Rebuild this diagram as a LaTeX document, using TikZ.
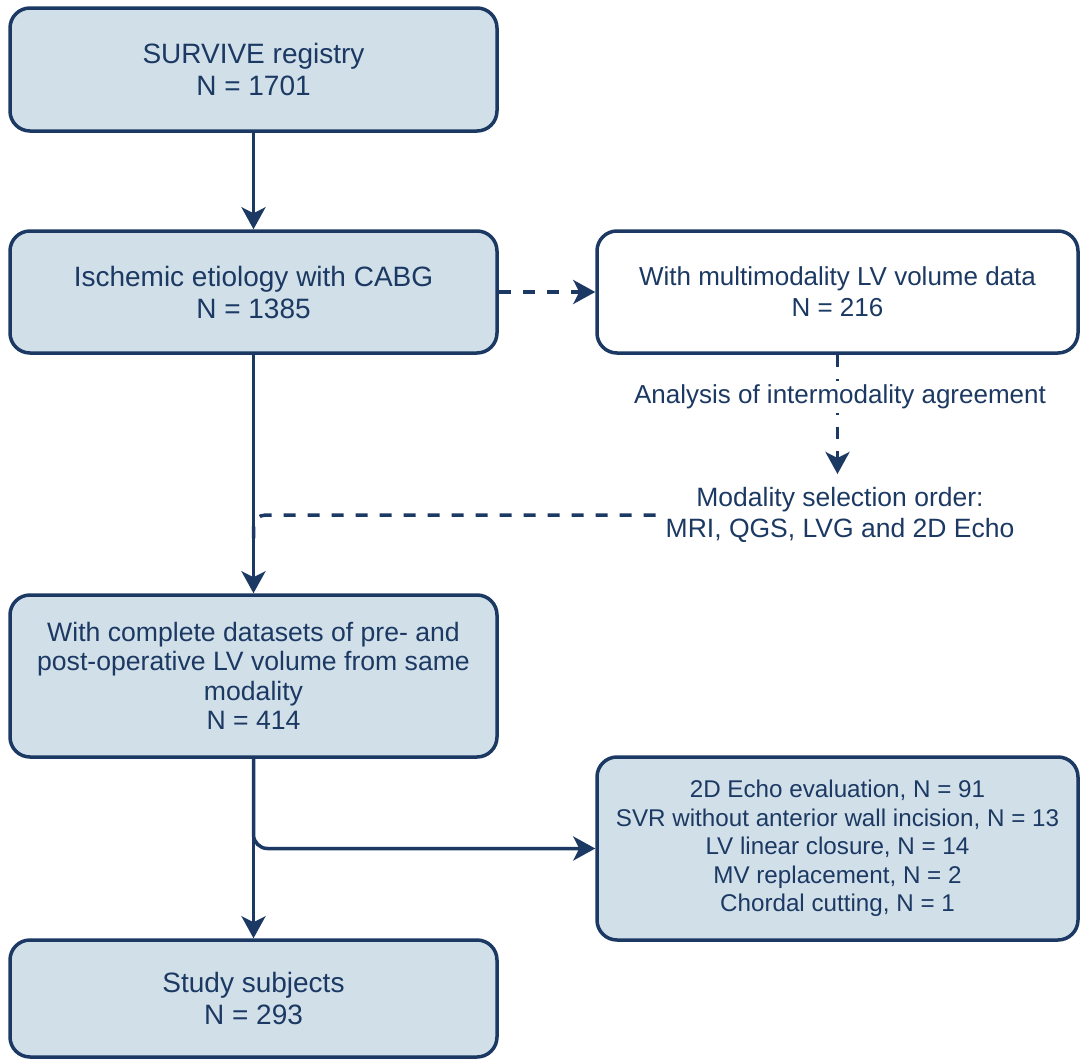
\documentclass[tikz,border=0pt]{standalone}
\usepackage{fontspec}
\setmainfont{Liberation Sans}
\usetikzlibrary{arrows.meta}
\definecolor{navy}{RGB}{27,57,99}
\definecolor{boxfill}{RGB}{209,223,232}
\tikzset{
  flowbox/.style={draw=navy, line width=3.5pt, rounded corners=20pt, fill=boxfill,
    text=navy, align=center, inner sep=0pt},
  whitebox/.style={flowbox, fill=white},
  lbl/.style={text=navy, align=center, inner sep=10pt},
  conn/.style={draw=navy, line width=3.5pt, -{Stealth[length=22pt,width=24pt,inset=6pt]}},
  dashline/.style={dash pattern=on 12pt off 12pt},
}
\begin{document}
\begin{tikzpicture}[x=1pt,y=-1pt]
\useasboundingbox (0,0) rectangle (1080,1060);

\node[flowbox, minimum width=487pt, minimum height=123pt, font=\fontsize{28}{32}\selectfont]
  (b1) at (253.5,69.5) {SURVIVE registry\\N = 1701};
\node[flowbox, minimum width=487pt, minimum height=122pt, font=\fontsize{28}{32}\selectfont]
  (b2) at (253.5,292) {Ischemic etiology with CABG\\N = 1385};
\node[whitebox, minimum width=481pt, minimum height=122pt, font=\fontsize{26}{31}\selectfont]
  (b3) at (837.5,292) {With multimodality LV volume data\\N = 216};
\node[flowbox, minimum width=487pt, minimum height=162pt, font=\fontsize{26.6}{29.5}\selectfont]
  (b4) at (253.5,676) {With complete datasets of pre- and\\post-operative LV volume from same\\modality\\N = 414};
\node[flowbox, minimum width=481pt, minimum height=183pt, font=\fontsize{24.2}{28.5}\selectfont]
  (b5) at (837.5,848.5) {2D Echo evaluation, N = 91\\SVR without anterior wall incision, N = 13\\LV linear closure, N = 14\\MV replacement, N = 2\\Chordal cutting, N = 1};
\node[flowbox, minimum width=487pt, minimum height=117pt, font=\fontsize{28}{32}\selectfont]
  (b6) at (253.5,998.5) {Study subjects\\N = 293};

\node[lbl, font=\fontsize{26.5}{31}\selectfont] (mod) at (840,515) {Modality selection order:\\MRI, QGS, LVG and 2D Echo};
\coordinate (tip) at (837.5,474);
\coordinate (j1) at (253.5,545);

% connectors
\draw[conn] (b1) -- (b2);
\draw[conn, dashline] (b2) -- (b3);
\draw[conn, dashline] (b3.south) -- (tip);
\node[lbl, fill=white, inner sep=4pt, font=\fontsize{26}{31}\selectfont] (ana) at (840,397) {Analysis of intermodality agreement};
\draw[draw=navy, line width=3.5pt, dashline, rounded corners=12pt] (mod.west) -| (j1);
\draw[conn] (b2) -- (b4);
\draw[conn] (b4) -- (b6);
\draw[conn, rounded corners=14pt] (b4.south) |- (b5.west);
\end{tikzpicture}
\end{document}
